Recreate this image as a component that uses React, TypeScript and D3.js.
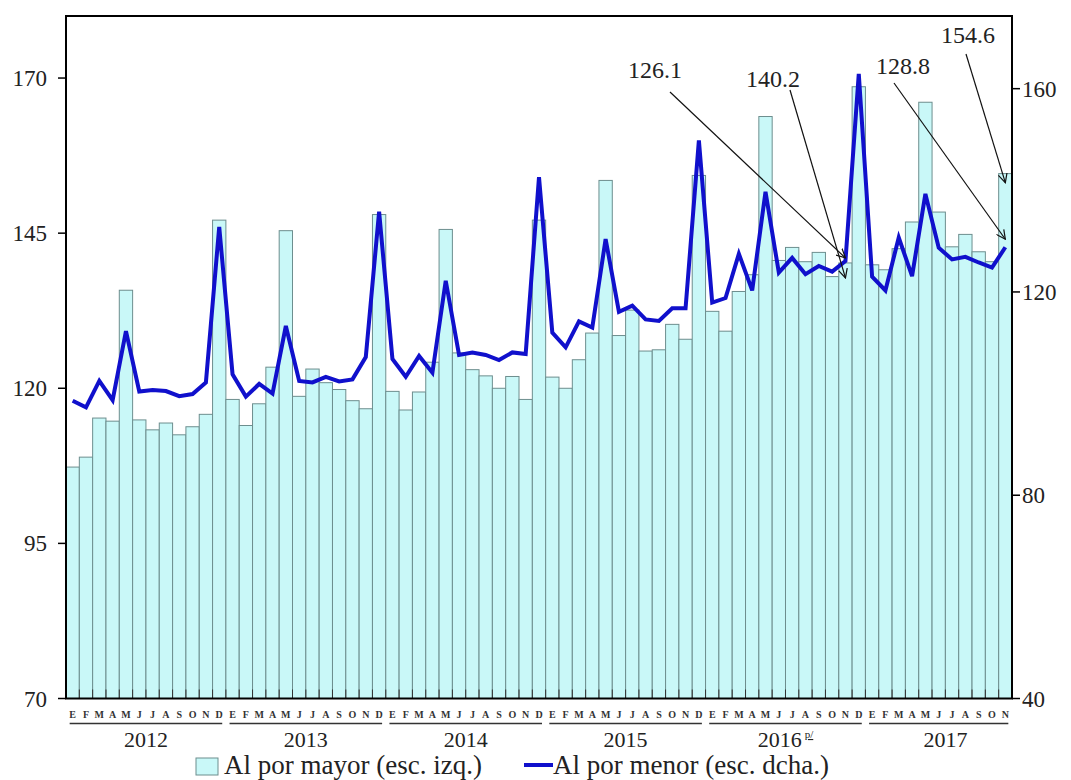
import React from 'react';
import * as d3 from 'd3';

const years = ['2012', '2013', '2014', '2015', '2016', '2017'];
const monthLetters = ['E', 'F', 'M', 'A', 'M', 'J', 'J', 'A', 'S', 'O', 'N', 'D'];

// Al por mayor (left scale), monthly Jan-2012 .. Nov-2017
const wholesale = [
  107.3, 108.9, 115.2, 114.7, 135.8, 114.9, 113.3, 114.4, 112.5, 113.8, 115.8, 147.1,
  118.2, 114.0, 117.5, 123.4, 145.4, 118.7, 123.1, 120.9, 119.8, 118.0, 116.7, 148.0,
  119.5, 116.5, 119.4, 124.2, 145.6, 125.7, 123.0, 122.0, 120.0, 121.9, 118.2, 147.1,
  121.8, 120.0, 124.6, 128.9, 153.5, 128.5, 132.6, 126.0, 126.2, 130.3, 127.9, 154.3,
  132.4, 129.2, 135.6, 138.3, 163.8, 140.6, 142.7, 140.4, 141.9, 138.0, 140.2, 168.6,
  139.9, 139.1, 142.5, 146.8, 166.1, 148.4, 142.8, 144.8, 142.0, 140.4, 154.6,
];

// Al por menor (right scale)
const retail = [
  98.6, 97.3, 102.5, 98.7, 112.3, 100.4, 100.7, 100.5, 99.5, 99.9, 102.2, 132.8,
  103.8, 99.4, 101.9, 100.0, 113.3, 102.5, 102.2, 103.3, 102.4, 102.8, 107.2, 135.8,
  106.8, 103.3, 107.4, 104.1, 122.2, 107.6, 108.1, 107.6, 106.6, 108.1, 107.8, 142.6,
  112.0, 109.1, 114.2, 113.0, 130.4, 116.1, 117.3, 114.6, 114.3, 116.8, 116.8, 149.8,
  117.9, 118.8, 127.5, 120.3, 139.7, 123.8, 126.7, 123.5, 125.1, 124.0, 126.1, 162.9,
  123.0, 120.3, 130.7, 123.1, 139.3, 128.7, 126.4, 126.9, 125.8, 124.8, 128.8,
];

const leftTicks = [70, 95, 120, 145, 170];
const rightTicks = [40, 80, 120, 160];

const annotationLabels = ['126.1', '140.2', '128.8', '154.6'];
const annotationIndex = [58, 58, 70, 70];
const annotationSeries = ['retail', 'wholesale', 'retail', 'wholesale'];

const legendLabels = ['Al por mayor  (esc. izq.)', 'Al por menor (esc. dcha.)'];

const SERIF = '"Liberation Serif", "DejaVu Serif", serif';
const T: React.CSSProperties = { fontFamily: SERIF };

export default function App() {
  const W = 1071;
  const H = 780;
  const left = 66;
  const right = 1012;
  const top = 16;
  const bottom = 698.5;

  const idx = wholesale.map((_, i) => i);
  const x = d3.scaleBand<number>().domain(idx).range([left, right]).padding(0);
  const bw = x.bandwidth();
  const yL = d3.scaleLinear().domain([70, 180]).range([bottom, top]);
  const yR = d3.scaleLinear().domain([40, 174.3]).range([bottom, top]);

  const line = d3
    .line<number>()
    .x((_, i) => (x(i) as number) + bw / 2)
    .y((d) => yR(d));

  // annotation layout: text anchor point, arrow start, tip offset
  const annLayout = [
    { tx: 655, ty: 78, sx: 670, sy: 92, dy: -3 },
    { tx: 773, ty: 87, sx: 790, sy: 90, dy: 15 },
    { tx: 903, ty: 74, sx: 894, sy: 83, dy: -8 },
    { tx: 968, ty: 43, sx: 966, sy: 54, dy: 9 },
  ];

  return (
    <svg
      width={W}
      height={H}
      style={{ position: 'absolute', left: 0, top: 0, background: '#fff' }}
    >
      <defs>
        <marker
          id="arrowhead"
          viewBox="0 0 10 10"
          refX="9"
          refY="5"
          markerWidth="10"
          markerHeight="10"
          markerUnits="userSpaceOnUse"
          orient="auto"
        >
          <path d="M0,0.5 L9,5 L0,9.5" fill="none" stroke="#111" strokeWidth="1.2" />
        </marker>
      </defs>
      <rect x={0} y={0} width={W} height={H} fill="#fff" />

      {/* bars */}
      {wholesale.map((v, i) => (
        <rect
          key={'b' + i}
          x={x(i)}
          y={yL(v)}
          width={bw}
          height={bottom - yL(v)}
          fill="#c9f8f8"
          stroke="#6d8e8e"
          strokeWidth={1}
        />
      ))}

      {/* bottom ticks */}
      {d3.range(wholesale.length + 1).map((i) => {
        const xx = left + i * bw;
        return <line key={'bt' + i} x1={xx} x2={xx} y1={bottom} y2={bottom - 9} stroke="#333" strokeWidth={1} />;
      })}

      {/* retail line */}
      <path d={line(retail) || ''} fill="none" stroke="#1010cc" strokeWidth={4} strokeLinejoin="miter" />

      {/* frame */}
      <rect x={left} y={top} width={right - left} height={bottom - top} fill="none" stroke="#000" strokeWidth={2} />

      {/* left axis */}
      {leftTicks.map((t) => (
        <g key={'lt' + t}>
          <line x1={left - 8} x2={left} y1={yL(t)} y2={yL(t)} stroke="#000" strokeWidth={1.5} />
          <text x={left - 19} y={yL(t) + 8} textAnchor="end" fontSize={23} fill="#222" style={T}>
            {t}
          </text>
        </g>
      ))}

      {/* right axis */}
      {rightTicks.map((t) => (
        <g key={'rt' + t}>
          <line x1={right} x2={right + 8} y1={yR(t)} y2={yR(t)} stroke="#000" strokeWidth={1.5} />
          <text x={right + 10} y={yR(t) + 8} textAnchor="start" fontSize={23} fill="#222" style={T}>
            {t}
          </text>
        </g>
      ))}

      {/* month letters */}
      {wholesale.map((_, i) => (
        <text
          key={'m' + i}
          x={(x(i) as number) + bw / 2}
          y={718}
          textAnchor="middle"
          fontSize={10}
          fontWeight="bold"
          fill="#333"
          style={T}
        >
          {monthLetters[i % 12]}
        </text>
      ))}

      {/* year underlines and labels */}
      {years.map((yr, k) => {
        const first = k * 12;
        const last = Math.min(first + 11, wholesale.length - 1);
        const x1 = (x(first) as number) + bw / 2 - 3;
        const x2 = (x(last) as number) + bw / 2 + 3;
        const cx = (x(first) as number) + 6 * bw;
        return (
          <g key={'y' + yr}>
            <line x1={x1} x2={x2} y1={723.5} y2={723.5} stroke="#333" strokeWidth={1.3} />
            <text x={cx} y={747} textAnchor="middle" fontSize={22} fill="#222" style={T}>
              {yr}
              {k === 4 ? (
                <tspan fontSize={11} dy={-9} dx={3} textDecoration="underline">
                  p/
                </tspan>
              ) : null}
            </text>
          </g>
        );
      })}

      {/* annotations */}
      {annotationLabels.map((lab, k) => {
        const L = annLayout[k];
        const i = annotationIndex[k];
        const tipX = (x(i) as number) + bw / 2;
        const tipY =
          annotationSeries[k] === 'retail' ? yR(retail[i]) + L.dy : yL(wholesale[i]) + L.dy;
        return (
          <g key={'a' + k}>
            <line x1={L.sx} y1={L.sy} x2={tipX} y2={tipY} stroke="#111" strokeWidth={1.2} markerEnd="url(#arrowhead)" />
            <text x={L.tx} y={L.ty} textAnchor="middle" fontSize={24} fill="#222" style={T}>
              {lab}
            </text>
          </g>
        );
      })}

      {/* legend */}
      <rect x={196} y={758} width={22} height={17} fill="#c9f8f8" stroke="#6d8e8e" strokeWidth={1} />
      <text x={224} y={774} fontSize={27} fill="#222" style={T}>
        {legendLabels[0]}
      </text>
      <line x1={524} x2={553} y1={765} y2={765} stroke="#1010cc" strokeWidth={4} />
      <text x={553} y={774} fontSize={27} fill="#222" style={T}>
        {legendLabels[1]}
      </text>
    </svg>
  );
}
